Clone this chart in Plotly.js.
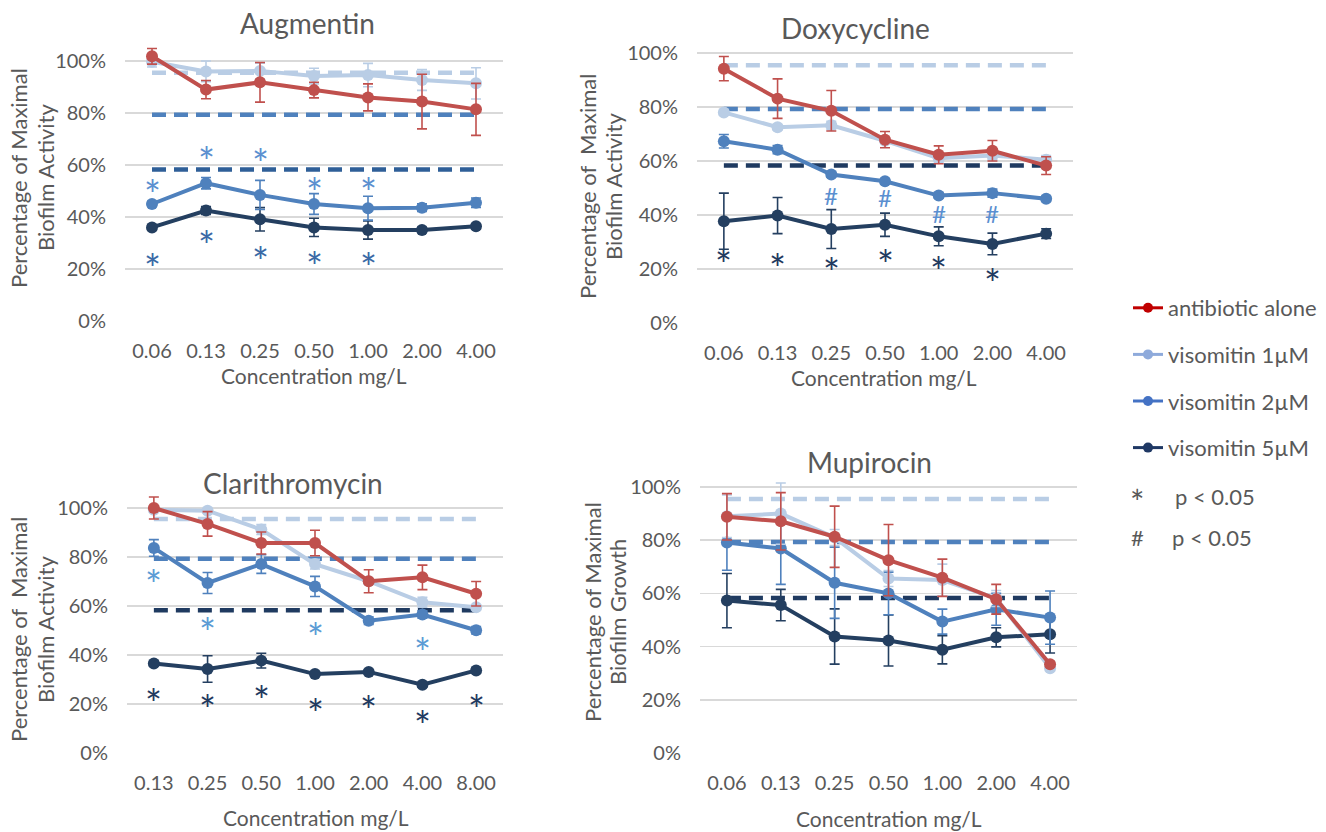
<!DOCTYPE html>
<html>
<head>
<meta charset="utf-8">
<script src="https://cdn.plot.ly/plotly-3.0.1.min.js"></script>
<style>html,body{margin:0;padding:0;background:#fff;}#chart{width:1326px;height:832px;}</style>
</head>
<body>
<div id="chart"></div>
<script>
// ---------- data ----------
const augCats = ['0.06','0.13','0.25','0.50','1.00','2.00','4.00'];
const augAlone = [101.8, 89.0, 91.8, 88.8, 86.0, 84.4, 81.4];
const augAloneErr = [3.0, 3.5, 7.6, 3.0, 5.2, 10.5, 10.0];
const aug1 = [99.7, 96.0, 96.2, 94.2, 94.6, 92.7, 91.4];
const aug1Err = [2.0, 4.0, 3.0, 3.0, 4.5, 4.0, 6.0];
const aug2 = [45.0, 53.0, 48.5, 45.0, 43.4, 43.6, 45.5];
const aug2Err = [1.0, 2.2, 5.6, 4.0, 4.6, 1.5, 1.8];
const aug5 = [36.0, 42.5, 39.1, 36.0, 35.0, 35.0, 36.4];
const aug5Err = [1.0, 1.5, 4.5, 3.5, 3.5, 1.0, 1.0];
const augStar2X = ['0.06','0.13','0.25','0.50','1.00'];
const augStar2Y = [52.3, 65.1, 64.1, 53.2, 53.2];
const augStar5X = ['0.06','0.13','0.25','0.50','1.00'];
const augStar5Y = [23.7, 32.7, 26.7, 24.7, 24.1];

const doxCats = ['0.06','0.13','0.25','0.50','1.00','2.00','4.00'];
const doxAlone = [94.2, 83.1, 78.6, 67.9, 62.3, 63.8, 58.3];
const doxAloneErr = [4.5, 7.3, 7.5, 3.0, 3.3, 3.8, 3.3];
const dox1 = [78.0, 72.5, 73.2, 67.5, 61.0, 62.0, 60.5];
const dox1Err = [1.0, 1.0, 1.5, 1.0, 1.5, 1.5, 1.5];
const dox2 = [67.3, 64.2, 55.0, 52.5, 47.2, 48.1, 46.0];
const dox2Err = [2.5, 1.5, 1.0, 1.0, 1.0, 1.5, 1.0];
const dox5 = [37.7, 39.8, 34.8, 36.4, 32.1, 29.3, 33.1];
const dox5Err = [10.4, 6.7, 7.2, 4.3, 3.5, 4.0, 1.8];
const doxHashX = ['0.25','0.50','1.00','2.00'];
const doxHashY = [47.3, 46.3, 40.7, 40.7];
const doxStar5X = ['0.06','0.13','0.25','0.50','1.00','2.00'];
const doxStar5Y = [25.3, 23.7, 22.2, 25.3, 22.7, 18.3];

const claCats = ['0.13','0.25','0.50','1.00','2.00','4.00','8.00'];
const claAlone = [100.0, 93.5, 85.7, 85.7, 70.1, 71.7, 65.0];
const claAloneErr = [4.5, 5.0, 4.5, 5.2, 4.7, 5.0, 5.0];
const cla1 = [99.3, 98.9, 91.2, 77.1, 70.1, 61.5, 59.5];
const cla1Err = [1.0, 1.0, 2.0, 2.0, 1.0, 2.0, 1.0];
const cla2 = [83.7, 69.4, 77.1, 68.0, 54.0, 56.5, 50.1];
const cla2Err = [3.4, 4.3, 3.8, 4.1, 1.5, 1.5, 1.5];
const cla5 = [36.5, 34.3, 37.7, 32.2, 33.1, 27.9, 33.7];
const cla5Err = [1.0, 5.4, 3.0, 1.0, 1.0, 1.0, 1.0];
const claStar2X = ['0.13','0.25','1.00','4.00'];
const claStar2Y = [72.8, 53.1, 51.0, 44.9];
const claStar5X = ['0.13','0.25','0.50','1.00','2.00','4.00','8.00'];
const claStar5Y = [24.2, 21.5, 25.2, 20.0, 21.1, 15.0, 21.5];

const mupCats = ['0.06','0.13','0.25','0.50','1.00','2.00','4.00'];
const mupAlone = [88.8, 87.1, 81.3, 72.5, 65.9, 57.8, 33.4];
const mupAloneErr = [8.7, 10.8, 11.5, 13.4, 7.0, 5.6, 1.0];
const mup1 = [89.0, 90.0, 81.0, 65.6, 65.0, 58.1, 31.9];
const mup1Err = [8.0, 11.5, 3.0, 3.0, 6.0, 3.0, 1.0];
const mup2 = [79.1, 76.9, 64.0, 60.0, 49.4, 54.0, 50.9];
const mup2Err = [10.4, 13.5, 13.4, 8.0, 4.7, 6.0, 10.0];
const mup5 = [57.3, 55.6, 43.8, 42.3, 38.8, 43.5, 44.6];
const mup5Err = [10.2, 5.9, 10.4, 9.6, 5.3, 3.6, 7.0];

// reference (dashed) levels of visomitin alone
const ref1uM = 95.5;
const ref2uM = 79.3;
const ref5uM = 58.3;

const yTickVals = [0, 20, 40, 60, 80, 100];
const yTickText = ['0%', '20%', '40%', '60%', '80%', '100%'];
const legendNames = ['antibiotic alone', 'visomitin 1µM', 'visomitin 2µM', 'visomitin 5µM'];

// ---------- styles ----------
const W = 1326, H = 832;
const FONT = 'Lato, "Noto Sans", sans-serif';
const GREY = '#595959';
const C_RED = '#c0504d', C_L = '#b9cde5', C_M = '#4f81bd', C_D = '#243f60';
const LEG_COLORS = ['#c00000', '#8eaadb', '#4472c4', '#1f3864'];
const px = v => v / W, py = v => 1 - v / H;

const panels = [
  {key:'', title:'Augmentin', cats:augCats, alone:augAlone, aloneErr:augAloneErr, s1:aug1, e1:aug1Err, s2:aug2, e2:aug2Err, s5:aug5, e5:aug5Err,
   box:[125, 503, 61, 321], titlePos:[307, 23], xt:[314, 376], yt:[18, 45, 178], ylab:['Percentage of Maximal','Biofilm Activity'], darkRef:'#2f5f98',
   marks:[{x:augStar2X, y:augStar2Y, t:'*', c:'#5b8fd0'}, {x:augStar5X, y:augStar5Y, t:'*', c:'#3a69a6'}]},
  {key:'2', title:'Doxycycline', cats:doxCats, alone:doxAlone, aloneErr:doxAloneErr, s1:dox1, e1:dox1Err, s2:dox2, e2:dox2Err, s5:dox5, e5:dox5Err,
   box:[697, 1073, 53, 323], titlePos:[855, 28], xt:[884, 377], yt:[587, 613, 187], ylab:['Percentage of  Maximal','Biofilm Activity'], darkRef:'#1f3a60',
   marks:[{x:doxHashX, y:doxHashY, t:'#', c:'#5b8fd0'}, {x:doxStar5X, y:doxStar5Y, t:'*', c:'#1f3a60'}]},
  {key:'3', title:'Clarithromycin', cats:claCats, alone:claAlone, aloneErr:claAloneErr, s1:cla1, e1:cla1Err, s2:cla2, e2:cla2Err, s5:cla5, e5:cla5Err,
   box:[127, 503, 508, 753], titlePos:[293, 483], xt:[316, 817], yt:[18, 45, 630], ylab:['Percentage of  Maximal','Biofilm Activity'], darkRef:'#1f3a60',
   marks:[{x:claStar2X, y:claStar2Y, t:'*', c:'#5b9bd5'}, {x:claStar5X, y:claStar5Y, t:'*', c:'#1f3a60'}]},
  {key:'4', title:'Mupirocin', cats:mupCats, alone:mupAlone, aloneErr:mupAloneErr, s1:mup1, e1:mup1Err, s2:mup2, e2:mup2Err, s5:mup5, e5:mup5Err,
   box:[700, 1077, 487, 753], titlePos:[869, 462], xt:[889, 818], yt:[592, 617, 612], ylab:['Percentage of Maximal','Biofilm Growth'], darkRef:'#1f3a60',
   marks:[]}
];

const YMAX = 107;
const traces = [];
const annotations = [];
const layout = {
  width: W, height: H, margin: {l:0, r:0, t:0, b:0},
  paper_bgcolor: '#fff', plot_bgcolor: '#fff',
  font: {family: FONT, color: GREY},
  showlegend: true,
  legend: {x: px(1128), y: py(287), xanchor: 'left', yanchor: 'top', font: {family: FONT, size: 22, color: GREY},
           tracegroupgap: 15, itemwidth: 30, bgcolor: 'rgba(0,0,0,0)'},
  annotations: annotations
};

panels.forEach(p => {
  const xa = 'x' + p.key, ya = 'y' + p.key;
  const [x0, x1, y100, y0] = p.box;
  const perUnit = (y0 - y100) / 100;
  const yTop = y100 - (YMAX - 100) * perUnit;
  layout['xaxis' + p.key] = {
    domain: [px(x0), px(x1)], anchor: ya, type: 'category', range: [-0.5, p.cats.length - 0.5],
    showgrid: false, zeroline: false, showline: false, ticks: 'outside', ticklen: 12, tickcolor: 'rgba(0,0,0,0)',
    tickfont: {family: FONT, size: 20, color: GREY}, fixedrange: true
  };
  layout['yaxis' + p.key] = {
    domain: [py(y0), py(yTop)], anchor: xa, range: [0, YMAX], tickmode: 'array', tickvals: yTickVals, ticktext: yTickText,
    showgrid: true, gridcolor: '#d9d9d9', gridwidth: 1.5, zeroline: false, showline: false,
    ticks: 'outside', ticklen: 14, tickcolor: 'rgba(0,0,0,0)',
    tickfont: {family: FONT, size: 20, color: GREY}, fixedrange: true
  };
  // dashed reference lines
  [[ref1uM, C_L], [ref2uM, C_M], [ref5uM, p.darkRef]].forEach(([v, c]) => {
    traces.push({type: 'scatter', mode: 'lines', x: p.cats, y: p.cats.map(() => v), xaxis: xa, yaxis: ya,
      line: {color: c, width: 4.5, dash: '14px,8px'}, showlegend: false, hoverinfo: 'skip'});
  });
  const series = [[p.s5, p.e5, C_D, legendNames[3]], [p.s2, p.e2, C_M, legendNames[2]], [p.s1, p.e1, C_L, legendNames[1]], [p.alone, p.aloneErr, C_RED, legendNames[0]]];
  series.forEach(([ys, es, c, nm]) => {
    traces.push({type: 'scatter', mode: 'lines+markers', name: nm, x: p.cats, y: ys, xaxis: xa, yaxis: ya,
      line: {color: c, width: 4}, marker: {color: c, size: 12},
      error_y: {type: 'data', array: es, visible: true, color: c, thickness: 1.6, width: 5},
      showlegend: false, cliponaxis: false});
  });
  // significance marks (annotation x uses category index)
  p.marks.forEach(m => {
    m.x.forEach((xv, i) => {
      annotations.push({xref: xa, yref: ya, x: p.cats.indexOf(xv), y: m.y[i], text: m.t, showarrow: false,
        font: {family: FONT, size: m.t === '*' ? 40 : 24, color: m.c}, yshift: m.t === '*' ? -10 : 0});
    });
  });
  // titles
  annotations.push({xref: 'paper', yref: 'paper', x: px(p.titlePos[0]), y: py(p.titlePos[1]), text: p.title, showarrow: false,
    font: {family: FONT, size: 28, color: GREY}, xanchor: 'center', yanchor: 'middle'});
  annotations.push({xref: 'paper', yref: 'paper', x: px(p.xt[0]), y: py(p.xt[1]), text: 'Concentration mg/L', showarrow: false,
    font: {family: FONT, size: 21, color: GREY}, xanchor: 'center', yanchor: 'middle'});
  annotations.push({xref: 'paper', yref: 'paper', x: px(p.yt[0]), y: py(p.yt[2]), text: p.ylab[0], showarrow: false, textangle: -90,
    font: {family: FONT, size: 22, color: GREY}, xanchor: 'center', yanchor: 'middle'});
  annotations.push({xref: 'paper', yref: 'paper', x: px(p.yt[1]), y: py(p.yt[2]), text: p.ylab[1], showarrow: false, textangle: -90,
    font: {family: FONT, size: 22, color: GREY}, xanchor: 'center', yanchor: 'middle'});
});

// legend entries (styled as in the figure key)
legendNames.forEach((nm, i) => {
  traces.push({type: 'scatter', mode: 'lines+markers', name: nm, x: [null], y: [null], xaxis: 'x', yaxis: 'y',
    line: {color: LEG_COLORS[i], width: 3}, marker: {color: LEG_COLORS[i], size: 10}, legendgroup: 'g' + i, showlegend: true});
});
// significance key
annotations.push({xref: 'paper', yref: 'paper', x: px(1137), y: py(493), text: '*', showarrow: false, yshift: -9,
  font: {family: FONT, size: 34, color: GREY}, xanchor: 'center', yanchor: 'middle'});
annotations.push({xref: 'paper', yref: 'paper', x: px(1173), y: py(496), text: 'p < 0.05', showarrow: false,
  font: {family: FONT, size: 22, color: GREY}, xanchor: 'left', yanchor: 'middle'});
annotations.push({xref: 'paper', yref: 'paper', x: px(1137), y: py(537), text: '#', showarrow: false,
  font: {family: FONT, size: 22, color: GREY}, xanchor: 'center', yanchor: 'middle'});
annotations.push({xref: 'paper', yref: 'paper', x: px(1170), y: py(537), text: 'p < 0.05', showarrow: false,
  font: {family: FONT, size: 22, color: GREY}, xanchor: 'left', yanchor: 'middle'});

Plotly.newPlot('chart', traces, layout, {displayModeBar: false, staticPlot: true});
</script>
</body>
</html>
